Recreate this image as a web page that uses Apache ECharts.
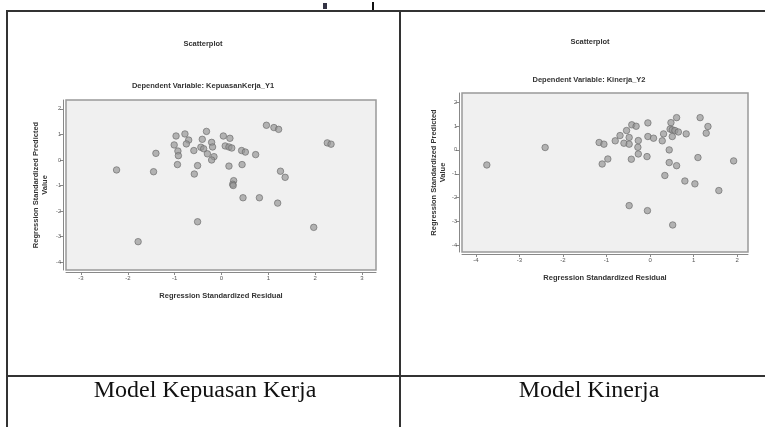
<!DOCTYPE html>
<html>
<head>
<meta charset="utf-8">
<script src="https://cdn.jsdelivr.net/npm/echarts@6/dist/echarts.min.js"></script>
<style>
html,body{margin:0;padding:0;background:#fff;}
#c{width:765px;height:427px;}
</style>
</head>
<body>
<div id="c"></div>
<script>
// Left model: Kepuasan Kerja (residual x, predicted y)
const leftX = [-2.24,-1.78,-1.40,-1.45,-0.97,-1.01,-0.93,-0.92,-0.94,-0.78,-0.70,-0.75,-0.59,-0.58,-0.51,-0.51,-0.41,-0.44,-0.38,-0.32,-0.30,-0.21,-0.19,-0.16,-0.21,0.04,0.18,0.08,0.16,0.22,0.16,0.26,0.24,0.25,0.43,0.51,0.44,0.46,0.73,0.81,0.96,1.12,1.22,1.26,1.36,1.20,1.97,2.26,2.34];
const leftY = [-0.39,-3.20,0.26,-0.46,0.94,0.59,0.35,0.17,-0.18,1.02,0.78,0.63,0.37,-0.55,-0.22,-2.42,0.81,0.50,0.44,1.12,0.24,0.69,0.51,0.13,0.00,0.94,0.85,0.55,0.51,0.47,-0.24,-0.81,-0.95,-1.00,0.37,0.31,-0.18,-1.48,0.21,-1.48,1.36,1.27,1.20,-0.44,-0.68,-1.69,-2.64,0.67,0.62];
// Right model: Kinerja
const rightX = [-3.75,-2.41,-1.17,-1.06,-1.10,-0.97,-0.80,-0.69,-0.60,-0.54,-0.48,-0.48,-0.42,-0.32,-0.43,-0.48,-0.27,-0.28,-0.27,-0.05,-0.05,0.08,-0.07,-0.06,0.28,0.31,0.34,0.44,0.44,0.48,0.46,0.51,0.57,0.65,0.51,0.61,0.61,0.52,0.83,0.80,1.03,1.10,1.15,1.29,1.33,1.58,1.92];
const rightY = [-0.63,0.10,0.31,0.24,-0.59,-0.38,0.38,0.60,0.28,0.81,0.52,0.24,1.05,0.99,-0.39,-2.33,0.39,0.11,-0.17,1.13,0.56,0.49,-0.28,-2.54,0.38,0.67,-1.07,0.00,-0.53,1.14,0.87,0.84,0.81,0.75,0.56,1.35,-0.66,-3.14,0.67,-1.30,-1.42,-0.32,1.35,0.70,0.98,-1.70,-0.46];

const leftXTicks = [-3,-2,-1,0,1,2,3];
const rightXTicks = [-4,-3,-2,-1,0,1,2];
const yTicks = [-4,-3,-2,-1,0,1,2];

const titles = ['Scatterplot','Scatterplot'];
const subtitles = ['Dependent Variable: KepuasanKerja_Y1','Dependent Variable: Kinerja_Y2'];
const captions = ['Model Kepuasan Kerja','Model Kinerja'];
const xName = 'Regression Standardized Residual';
const yName = 'Regression Standardized Predicted\nValue';

const chart = echarts.init(document.getElementById('c'), null, {renderer:'canvas'});
const FONT = 'Liberation Sans, Arial, sans-serif';
const SERIF = 'Liberation Serif, Times New Roman, serif';

function xAxisCfg(idx, min, max, ticks){
  return {
    type:'value', gridIndex:idx, min:min, max:max, offset:2,
    name:xName, nameLocation:'middle', nameGap:20,
    nameTextStyle:{fontFamily:FONT, fontSize:7.5, fontWeight:'bold', color:'#333'},
    axisLine:{show:true, onZero:false, lineStyle:{color:'#888', width:1}},
    axisTick:{show:true, customValues:ticks, length:3, lineStyle:{color:'#888'}},
    axisLabel:{customValues:ticks, fontFamily:FONT, fontSize:6, color:'#555', margin:3},
    splitLine:{show:false}
  };
}
function yAxisCfg(idx, min, max, gap){
  return {
    type:'value', gridIndex:idx, min:min, max:max, offset:3,
    name:yName, nameLocation:'middle', nameGap:gap, nameRotate:90,
    nameTextStyle:{fontFamily:FONT, fontSize:7.5, fontWeight:'bold', color:'#333', lineHeight:9},
    axisLine:{show:true, onZero:false, lineStyle:{color:'#888', width:1}},
    axisTick:{show:true, customValues:yTicks, length:3, lineStyle:{color:'#888'}},
    axisLabel:{customValues:yTicks, fontFamily:FONT, fontSize:5.5, color:'#555', margin:2},
    splitLine:{show:false}
  };
}
function pts(xs, ys){ return xs.map((v,i)=>[v, ys[i]]); }
const dotStyle = {color:'rgba(150,150,150,0.85)', borderColor:'#666', borderWidth:0.8};

const lineStyle = {stroke:'#333', lineWidth:2};
function textEl(x,y,txt,size,weight,family,color){
  return {type:'text', x:x, y:y, style:{text:txt, fontSize:size, fontWeight:weight, fontFamily:family, fill:color, textAlign:'center', textVerticalAlign:'middle'}, z:10};
}

chart.setOption({
  backgroundColor:'#ffffff',
  animation:false,
  grid:[
    {left:66, top:100, width:310, height:170, show:true, backgroundColor:'#f0f0f0', borderColor:'#999', borderWidth:1.5},
    {left:462, top:93, width:286, height:159, show:true, backgroundColor:'#f0f0f0', borderColor:'#999', borderWidth:1.5}
  ],
  xAxis:[ xAxisCfg(0,-3.32,3.3,leftXTicks), xAxisCfg(1,-4.32,2.25,rightXTicks) ],
  yAxis:[ yAxisCfg(0,-4.31,2.35,14), yAxisCfg(1,-4.27,2.38,12) ],
  series:[
    {type:'scatter', xAxisIndex:0, yAxisIndex:0, data:pts(leftX,leftY), symbolSize:6.5, itemStyle:dotStyle},
    {type:'scatter', xAxisIndex:1, yAxisIndex:1, data:pts(rightX,rightY), symbolSize:6.5, itemStyle:dotStyle}
  ],
  graphic:[
    {type:'line', shape:{x1:6, y1:11, x2:765, y2:11}, style:lineStyle},
    {type:'line', shape:{x1:7, y1:10, x2:7, y2:427}, style:lineStyle},
    {type:'line', shape:{x1:400, y1:10, x2:400, y2:427}, style:lineStyle},
    {type:'line', shape:{x1:6, y1:376, x2:765, y2:376}, style:lineStyle},
    {type:'rect', shape:{x:323, y:3, width:4, height:6}, style:{fill:'#334'}},
    {type:'rect', shape:{x:372, y:2, width:2, height:8}, style:{fill:'#111'}},
    textEl(203,44,titles[0],7.5,'bold',FONT,'#333'),
    textEl(203,86,subtitles[0],7.5,'bold',FONT,'#333'),
    textEl(590,42,titles[1],7.5,'bold',FONT,'#333'),
    textEl(589,80,subtitles[1],7.5,'bold',FONT,'#333'),
    textEl(205,391,captions[0],24,'normal',SERIF,'#111'),
    textEl(589,391,captions[1],24,'normal',SERIF,'#111')
  ]
});
</script>
</body>
</html>
